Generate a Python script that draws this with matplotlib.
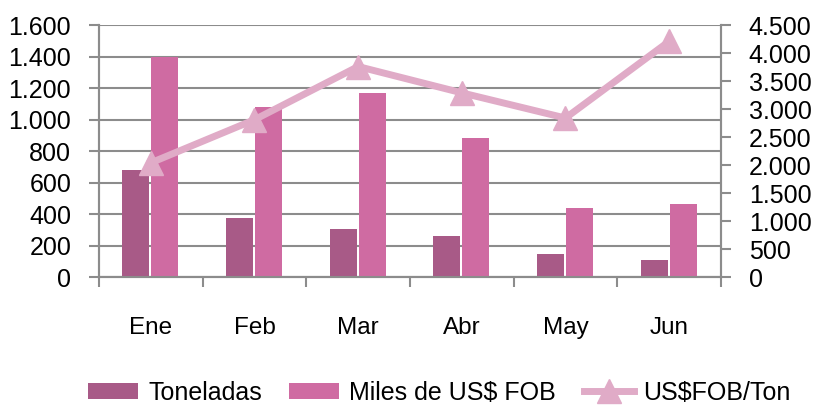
import numpy as np
import matplotlib.pyplot as plt
from matplotlib.ticker import FuncFormatter, FixedLocator

# data
meses = ['Ene', 'Feb', 'Mar', 'Abr', 'May', 'Jun']
toneladas = [680, 373, 307, 258, 144, 108]
miles_fob = [1400, 1081, 1170, 880, 436, 463]
fob_ton = [2040, 2810, 3760, 3290, 2840, 4210]

c_ton = '#A85A87'
c_miles = '#CF6BA2'
c_line = '#E0ABC7'
c_grid = '#8C8C8C'

plt.rcParams['font.family'] = ['Liberation Sans', 'DejaVu Sans']

def miles_fmt(v, pos):
    return '{:,.0f}'.format(v).replace(',', '.')

fig = plt.figure(figsize=(8.14, 4.05), dpi=100)
ax = fig.add_axes([0.1216, 0.316, 0.7641, 0.622])
ax2 = ax.twinx()

x = np.arange(len(meses))
b1 = ax.bar(x - 0.145, toneladas, width=0.26, color=c_ton, label='Toneladas', zorder=3)
b2 = ax.bar(x + 0.135, miles_fob, width=0.26, color=c_miles, label='Miles de US$ FOB', zorder=3)
l1, = ax2.plot(x, fob_ton, color=c_line, lw=5, marker='^', ms=17,
               label='US$FOB/Ton', zorder=4)

ax.set_xlim(-0.5, len(meses) - 0.5)
ax.set_ylim(0, 1600)
ax.set_yticks(np.arange(0, 1601, 200))
ax.yaxis.set_major_formatter(FuncFormatter(miles_fmt))
ax.yaxis.grid(True, color=c_grid, lw=1.5, zorder=0)
ax.set_axisbelow(True)

ax2.set_ylim(0, 4500)
ax2.set_yticks(np.arange(0, 4501, 500))
ax2.yaxis.set_major_formatter(FuncFormatter(miles_fmt))

ax.set_xticks(x)
ax.set_xticklabels(meses)
ax.xaxis.set_minor_locator(FixedLocator(np.arange(-0.5, len(meses), 1)))
ax.tick_params(axis='x', which='major', length=0, pad=29, labelsize=17.5)
ax.tick_params(axis='x', which='minor', length=7, width=1.5, color=c_grid)
ax.tick_params(axis='y', length=7, width=1.5, color=c_grid, labelsize=18, pad=13)
ax2.tick_params(axis='y', length=7, width=1.5, color=c_grid, labelsize=18, pad=13)

for a in (ax, ax2):
    a.spines['top'].set_visible(False)
    for s in ('left', 'right', 'bottom'):
        a.spines[s].set_color(c_grid)
        a.spines[s].set_linewidth(1.5)

fig.legend(handles=[b1, b2, l1], loc='center', bbox_to_anchor=(0.54, 0.03),
           ncol=3, frameon=False, fontsize=18, handlelength=2.0,
           handleheight=0.6, handletextpad=0.4, columnspacing=1.1)

fig.savefig('out.png', dpi=100)
